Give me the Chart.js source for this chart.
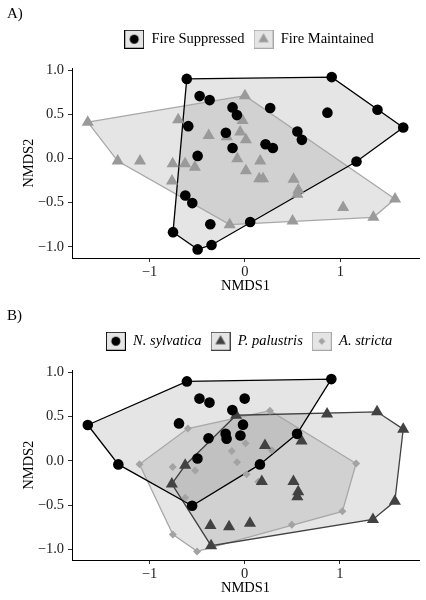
<!DOCTYPE html>
<html>
<head>
<meta charset="utf-8">
<script src="https://cdn.jsdelivr.net/npm/chart.js@4.4.1/dist/chart.umd.min.js"></script>
<style>
  html, body { margin: 0; padding: 0; background: #fff; overflow: hidden; }
  .panel { position: absolute; left: 0; width: 426px; height: 300px; }
  #panel-a { top: 0; }
  #panel-b { top: 302px; }
</style>
</head>
<body>
<div class="panel" id="panel-a"><canvas id="chart-a" width="426" height="300"></canvas></div>
<div class="panel" id="panel-b"><canvas id="chart-b" width="426" height="300"></canvas></div>
<script>
// NMDS site scores, [NMDS1, NMDS2]

// A) fire treatment
const fireSuppressed = [
  [-0.61, 0.90], [0.91, 0.92], [-0.475, 0.705], [-0.37, 0.66], [-0.13, 0.577],
  [-0.084, 0.49], [0.265, 0.57], [0.865, 0.518], [1.39, 0.55], [1.66, 0.35],
  [-0.594, 0.365], [-0.2, 0.29], [0.55, 0.305], [0.597, 0.21], [-0.13, 0.118],
  [0.216, 0.16], [0.293, 0.118], [-0.496, 0.028], [1.17, -0.035], [-0.625, -0.42],
  [-0.552, -0.506], [-0.363, -0.745], [0.055, -0.72], [-0.754, -0.835],
  [-0.496, -1.03], [-0.35, -0.98]
];
const fireMaintained = [
  [-1.648, 0.41], [0.0, 0.71], [-0.70, 0.436], [-0.025, 0.43], [-0.38, 0.26],
  [-0.19, 0.245], [-0.05, 0.30], [0.01, 0.21], [-0.08, -0.005], [-1.334, -0.03],
  [-1.10, -0.03], [-0.758, -0.06], [-0.628, -0.06], [-0.525, -0.10], [0.01, -0.14],
  [0.16, -0.03], [0.15, -0.23], [0.19, -0.23], [0.51, -0.235], [0.56, -0.357],
  [0.55, -0.405], [-0.765, -0.256], [1.574, -0.46], [1.03, -0.555], [1.347, -0.667],
  [0.50, -0.71], [-0.16, -0.75]
];

// B) dominant species
const nyssaSylvatica = [
  [-1.648, 0.405], [-0.607, 0.897], [0.91, 0.923], [-0.475, 0.703], [-0.37, 0.658],
  [0.0, 0.703], [-0.13, 0.573], [-0.69, 0.423], [-0.018, 0.409], [-0.38, 0.256],
  [-0.2, 0.305], [-0.19, 0.25], [-0.045, 0.287], [0.55, 0.305], [-1.327, -0.04],
  [-0.496, 0.027], [0.16, -0.04], [-0.552, -0.507]
];
const pinusPalustris = [
  [-0.09, 0.515], [0.865, 0.528], [1.39, 0.554], [1.665, 0.358], [0.213, 0.174],
  [0.597, 0.225], [-0.625, -0.05], [-0.765, -0.26], [0.18, -0.232], [0.512, -0.232],
  [0.562, -0.348], [0.553, -0.405], [1.577, -0.457], [1.347, -0.662], [-0.36, -0.73],
  [-0.164, -0.743], [0.055, -0.703], [-0.353, -0.958]
];
const aristidaStricta = [
  [-0.597, 0.365], [0.265, 0.567], [0.01, 0.2], [-0.136, 0.11], [0.285, 0.12],
  [-1.105, -0.038], [-0.756, -0.07], [-0.52, -0.11], [-0.08, -0.015], [0.02, -0.15],
  [0.143, -0.237], [1.17, -0.03], [1.026, -0.57], [0.495, -0.722], [-0.754, -0.832],
  [-0.5, -1.022], [-0.625, -0.416]
];

const xTickValues = [-1, 0, 1];
const yTickValues = [-1, -0.5, 0, 0.5, 1];

const FONT = "'Liberation Serif', 'Times New Roman', serif";
const HULL_FILL = "rgba(127,127,127,0.2)";

// convex hull (monotone chain), closed
function convexHull(points) {
  const pts = points.map(([x, y]) => ({ x, y })).sort((a, b) => a.x - b.x || a.y - b.y);
  const cross = (o, a, b) => (a.x - o.x) * (b.y - o.y) - (a.y - o.y) * (b.x - o.x);
  const lower = [];
  for (const p of pts) {
    while (lower.length >= 2 && cross(lower[lower.length - 2], lower[lower.length - 1], p) <= 0) lower.pop();
    lower.push(p);
  }
  const upper = [];
  for (const p of pts.slice().reverse()) {
    while (upper.length >= 2 && cross(upper[upper.length - 2], upper[upper.length - 1], p) <= 0) upper.pop();
    upper.push(p);
  }
  upper.pop();
  lower.pop();
  const hull = lower.concat(upper);
  hull.push(hull[0]);
  return hull;
}

// legend key: shaded box with the group's symbol
function makeKey(g) {
  const c = document.createElement("canvas");
  c.width = 20;
  c.height = 19;
  const ctx = c.getContext("2d");
  ctx.fillStyle = HULL_FILL;
  ctx.fillRect(0.5, 0.5, 19, 18);
  ctx.strokeStyle = g.line;
  ctx.lineWidth = 1;
  ctx.strokeRect(0.5, 0.5, 19, 18);
  ctx.fillStyle = g.color;
  Chart.helpers.drawPoint(ctx, { pointStyle: g.style, radius: g.keyRadius, borderWidth: 0, rotation: 0 }, 10, 9.5);
  return c;
}

// fills every hull before any outline or point is drawn
const hullFillPlugin = {
  id: "hullFill",
  beforeDatasetsDraw(chart) {
    const ctx = chart.ctx;
    chart.data.datasets.forEach((ds, i) => {
      if (!ds.hullFill) return;
      const pts = chart.getDatasetMeta(i).data;
      ctx.save();
      ctx.beginPath();
      pts.forEach((p, k) => (k ? ctx.lineTo(p.x, p.y) : ctx.moveTo(p.x, p.y)));
      ctx.closePath();
      ctx.fillStyle = ds.hullFill;
      ctx.fill();
      ctx.restore();
    });
  },
};

// legend: gap below it and centred over the panel like ggplot
const legendPlacement = {
  id: "legendPlacement",
  beforeLayout(chart) {
    const lg = chart.legend;
    if (lg && !lg._gapPatched) {
      const fit = lg.fit;
      lg.fit = function () {
        fit.call(this);
        this.height += 12;
      };
      lg._gapPatched = true;
    }
  },
  afterLayout(chart) {
    const lg = chart.legend;
    if (!lg) return;
    lg.left = chart.chartArea.left + 7;
    lg.right = chart.chartArea.right;
  },
};

const fmtMinus = (s) => s.replace("-", "\u2212");

function makePanel(canvasId, panelLabel, groups, italic) {
  const all = groups.flatMap((g) => g.points);
  const xs = all.map((p) => p[0]);
  const ys = all.map((p) => p[1]);
  const xr = Math.max(...xs) - Math.min(...xs);
  const yr = Math.max(...ys) - Math.min(...ys);

  const hullSets = groups.map((g) => ({
    label: g.name + " hull",
    data: convexHull(g.points),
    showLine: true,
    borderColor: g.line,
    borderWidth: 1.3,
    pointRadius: 0,
    hullFill: HULL_FILL,
    order: 1,
  }));
  const pointSets = groups.map((g) => ({
    label: g.name,
    data: g.points.map(([x, y]) => ({ x, y })),
    pointStyle: g.style,
    pointRadius: g.radius,
    pointBackgroundColor: g.color,
    pointBorderWidth: 0,
    showLine: false,
    order: 0,
  }));

  return new Chart(document.getElementById(canvasId), {
    type: "scatter",
    data: { datasets: pointSets.concat(hullSets) },
    plugins: [hullFillPlugin, legendPlacement],
    options: {
      responsive: false,
      animation: false,
      events: [],
      layout: { padding: { left: 7, right: 7, top: 0, bottom: 0 } },
      scales: {
        x: {
          type: "linear",
          min: Math.min(...xs) - 0.05 * xr,
          max: Math.max(...xs) + 0.05 * xr,
          afterBuildTicks: (s) => { s.ticks = xTickValues.map((v) => ({ value: v })); },
          afterFit: (s) => { s.height = 42; },
          grid: { drawOnChartArea: false, drawTicks: true, tickLength: 4, color: "#333" },
          border: { display: true, color: "#000", width: 1 },
          ticks: {
            color: "#222",
            padding: 1.5,
            autoSkip: false,
            maxRotation: 0,
            font: { family: FONT, size: 14.5 },
            callback: (v) => fmtMinus(String(v)),
          },
          title: {
            display: true,
            text: "NMDS1",
            color: "#000",
            font: { family: FONT, size: 14.5 },
            padding: { top: 0, bottom: 5.6 },
          },
        },
        y: {
          type: "linear",
          min: Math.min(...ys) - 0.05 * yr,
          max: Math.max(...ys) + 0.05 * yr,
          afterBuildTicks: (s) => { s.ticks = yTickValues.map((v) => ({ value: v })); },
          afterFit: (s) => { s.width = 65; },
          grid: { drawOnChartArea: false, drawTicks: true, tickLength: 4, color: "#333" },
          border: { display: true, color: "#000", width: 1 },
          ticks: {
            color: "#222",
            padding: 4,
            autoSkip: false,
            font: { family: FONT, size: 14.5 },
            callback: (v) => fmtMinus(Number(v).toFixed(1)),
          },
          title: {
            display: true,
            text: "NMDS2",
            color: "#000",
            font: { family: FONT, size: 14.5 },
            padding: { top: 13, bottom: 0 },
          },
        },
      },
      plugins: {
        tooltip: { enabled: false },
        title: {
          display: true,
          text: panelLabel,
          align: "start",
          color: "#000",
          font: { family: FONT, size: 15, weight: "normal" },
          padding: { top: 5, bottom: 0 },
        },
        legend: {
          display: true,
          position: "top",
          align: "center",
          labels: {
            usePointStyle: true,
            pointStyleWidth: 20,
            padding: 9,
            color: "#000",
            font: { family: FONT, size: 14.5, style: italic ? "italic" : "normal" },
            generateLabels: () =>
              groups.map((g, i) => ({
                text: g.name,
                pointStyle: makeKey(g),
                fillStyle: HULL_FILL,
                strokeStyle: g.line,
                lineWidth: 0,
                fontColor: "#000",
                hidden: false,
                datasetIndex: i,
              })),
          },
        },
      },
    },
  });
}

makePanel("chart-a", "A)", [
  { name: "Fire Suppressed", points: fireSuppressed, color: "#000000", line: "#000000", style: "circle", radius: 5.3, keyRadius: 4.5 },
  { name: "Fire Maintained", points: fireMaintained, color: "#9a9a9a", line: "#a8a8a8", style: "triangle", radius: 7, keyRadius: 6 },
], false);

makePanel("chart-b", "B)", [
  { name: "N. sylvatica", points: nyssaSylvatica, color: "#000000", line: "#000000", style: "circle", radius: 5.3, keyRadius: 4.5 },
  { name: "P. palustris", points: pinusPalustris, color: "#424242", line: "#424242", style: "triangle", radius: 7, keyRadius: 6 },
  { name: "A. stricta", points: aristidaStricta, color: "#a3a3a3", line: "#a8a8a8", style: "rectRot", radius: 4, keyRadius: 3.5 },
], true);
</script>
</body>
</html>
